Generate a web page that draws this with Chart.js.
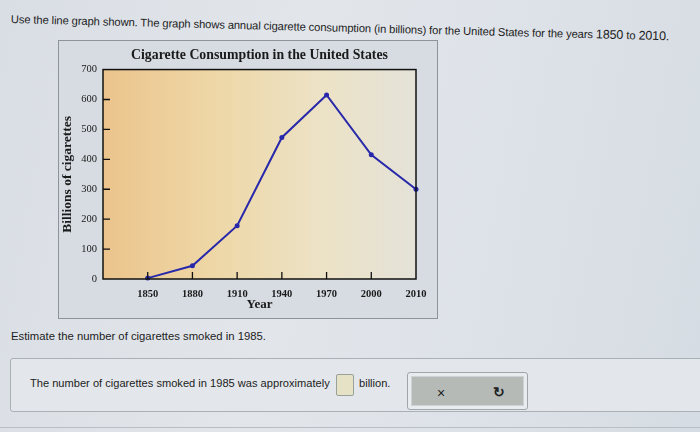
<!DOCTYPE html>
<html>
<head>
<meta charset="utf-8">
<script src="https://cdn.jsdelivr.net/npm/chart.js@4.4.1/dist/chart.umd.min.js"></script>
<style>
  html,body{margin:0;padding:0;}
  body{width:700px;height:432px;overflow:hidden;position:relative;
    background:linear-gradient(100deg,#d9dee4 0%,#e2e6eb 40%,#dde2e8 70%,#d6dce3 100%);
    font-family:"Liberation Sans",Arial,sans-serif;color:#1c1c1c;}
  #intro{position:absolute;left:11px;top:12px;font-size:11.2px;white-space:nowrap;
    transform-origin:0 0;transform:rotate(1.5deg);letter-spacing:-0.1px;}
  #intro .big{font-size:12.5px;}
  #panel{position:absolute;left:58px;top:40px;width:378px;height:277px;
    background:#d6dce2;border:1px solid #8c939a;}
  #chartwrap{position:absolute;left:0;top:0;width:378px;height:277px;}
  #q{position:absolute;left:11px;top:330px;font-size:11.3px;}
  #ansbox{position:absolute;left:10px;top:358px;width:720px;height:52px;
    border:1px solid #a9b0b6;border-radius:3px;background:#e3e7eb;}
  #anstext{position:absolute;left:19px;top:18px;font-size:11.1px;white-space:nowrap;}
  #inp{position:absolute;left:325px;top:15px;width:16px;height:20px;background:#e6e2c6;
    border:1px solid #9aa09a;border-radius:2px;}
  #bill{position:absolute;left:348px;top:18px;font-size:11.1px;}
  #btns{position:absolute;left:396px;top:13px;width:119px;height:36px;border:1px solid #9ea5ab;
    border-radius:3px;background:#e8ecef;}
  #btnin{position:absolute;left:3px;top:3px;right:3px;bottom:3px;background:#b5bab7;border:1px solid #cdd2d6;}
  #x{position:absolute;left:25px;top:8px;font-size:14px;color:#222;}
  #r{position:absolute;left:81px;top:7px;font-size:14px;color:#222;font-weight:bold;}
  #foot{position:absolute;left:0;top:427px;width:700px;height:1px;background:#b8bec4;}
</style>
</head>
<body>
<div id="intro">Use the line graph shown. The graph shows annual cigarette consumption (in billions) for the United States for the years <span class="big">1850</span> to <span class="big">2010.</span></div>
<div id="panel"><div id="chartwrap"><canvas id="c" width="378" height="277"></canvas></div></div>
<div id="q">Estimate the number of cigarettes smoked in 1985.</div>
<div id="ansbox">
  <div id="anstext">The number of cigarettes smoked in 1985 was approximately</div>
  <div id="inp"></div>
  <div id="bill">billion.</div>
  <div id="btns"><div id="btnin"><span id="x">×</span><span id="r">↻</span></div></div>
</div>
<div id="foot"></div>
<script>
const years = ["1850","1880","1910","1940","1970","2000","2010"];
const consumption = [3, 44, 178, 473, 615, 415, 300];
const yTicks = [0,100,200,300,400,500,600,700];

const points = years.map((y,i)=>({x:i+1, y:consumption[i]}));

const bgPlugin = {
  id:'bg',
  beforeDatasetsDraw(chart){
    const {ctx, chartArea:a} = chart;
    const g = ctx.createLinearGradient(a.left,0,a.right,0);
    g.addColorStop(0,'#ebc48c');
    g.addColorStop(0.35,'#eed7a6');
    g.addColorStop(0.7,'#ece2c6');
    g.addColorStop(1,'#e4e2d8');
    ctx.save();
    ctx.fillStyle=g;
    ctx.fillRect(a.left,a.top,a.right-a.left,a.bottom-a.top);
    ctx.restore();
  },
  afterDatasetsDraw(chart){
    const {ctx, chartArea:a, scales} = chart;
    ctx.save();
    ctx.strokeStyle='#111';
    ctx.lineWidth=1.5;
    ctx.strokeRect(a.left,a.top,a.right-a.left,a.bottom-a.top);
    ctx.lineWidth=1.3;
    ctx.beginPath();
    for(let i=1;i<years.length;i++){
      const px = scales.x.getPixelForValue(i);
      ctx.moveTo(px,a.bottom); ctx.lineTo(px,a.bottom-7);
    }
    yTicks.forEach(v=>{
      if(v===0||v===700) return;
      const py = scales.y.getPixelForValue(v);
      ctx.moveTo(a.left,py); ctx.lineTo(a.left+7,py);
    });
    ctx.stroke();
    ctx.restore();
  }
};

new Chart(document.getElementById('c'),{
  type:'line',
  data:{datasets:[{
    data:points,
    borderColor:'#2828aa',
    backgroundColor:'#2828aa',
    borderWidth:2,
    pointRadius:2.5,
    pointBorderWidth:0,
    tension:0,
    clip:false
  }]},
  options:{
    responsive:false,
    animation:false,
    layout:{padding:{left:0,right:21,top:0,bottom:6}},
    plugins:{
      legend:{display:false},
      tooltip:{enabled:false},
      title:{display:true,fullSize:false,text:'Cigarette Consumption in the United States',
        color:'#1a1a1a',font:{family:'"Liberation Serif","Times New Roman",serif',size:13.8,weight:'bold'},
        padding:{top:6,bottom:6}}
    },
    scales:{
      x:{type:'linear',min:0,max:7,
        afterFit(s){s.height=33;},
        grid:{display:false,drawTicks:false},
        border:{display:false},
        ticks:{stepSize:1,padding:9,color:'#1a1a1a',maxRotation:0,autoSkip:false,
          font:{family:'"Liberation Serif","Times New Roman",serif',size:10.5,weight:'bold'},
          callback:(v)=> (v>=1 && v<=years.length) ? years[v-1] : ''},
        title:{display:true,text:'Year',color:'#1a1a1a',padding:{top:-3,bottom:0},
          font:{family:'"Liberation Serif","Times New Roman",serif',size:13,weight:'bold'}}
      },
      y:{min:0,max:700,
        afterFit(s){s.width=44;},
        grid:{display:false,drawTicks:false},
        border:{display:false},
        afterBuildTicks(s){s.ticks = yTicks.map(v=>({value:v}));},
        ticks:{padding:6,color:'#1a1a1a',
          font:{family:'"Liberation Serif","Times New Roman",serif',size:10.5},
          callback:(v)=>String(v)},
        title:{display:true,text:'Billions of cigarettes',color:'#1a1a1a',padding:{top:0,bottom:3},
          font:{family:'"Liberation Serif","Times New Roman",serif',size:13.5,weight:'bold'}}
      }
    }
  },
  plugins:[bgPlugin]
});
</script>
</body>
</html>
